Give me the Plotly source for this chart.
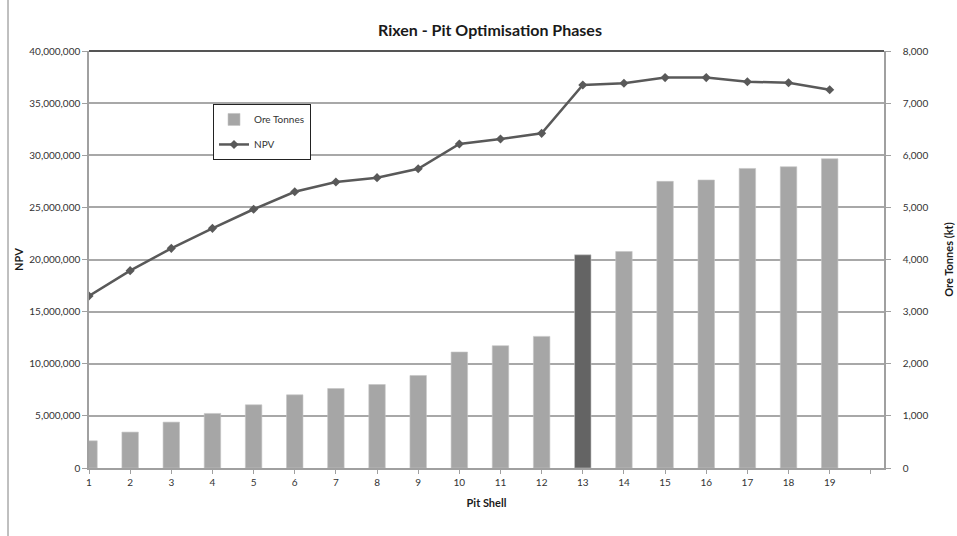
import plotly.graph_objects as go

# Pit shells and results per shell
pit_shell = list(range(1, 20))
npv = [16.5e6, 18.93e6, 21.07e6, 22.99e6, 24.82e6, 26.5e6, 27.43e6, 27.85e6, 28.71e6,
       31.08e6, 31.56e6, 32.1e6, 36.74e6, 36.9e6, 37.45e6, 37.45e6, 37.05e6, 36.95e6, 36.28e6]
ore_tonnes = [522, 689, 880, 1047, 1212, 1403, 1525, 1602, 1775,
              2225, 2346, 2525, 4090, 4154, 5499, 5525, 5747, 5780, 5933]

tick_vals = list(range(1, 21))
tick_text = [str(v) for v in range(1, 20)] + [""]

selected_shell = 13
bar_colors = ["#646464" if s == selected_shell else "#a6a6a6" for s in pit_shell]

FONT = "Lato"
TXT = "#333333"

fig = go.Figure()
fig.add_trace(go.Bar(
    x=pit_shell, y=ore_tonnes, name="Ore Tonnes", legendgroup="ore",
    marker=dict(color=bar_colors, line=dict(color="#c4c4c4", width=0.6)),
    width=0.4, yaxis="y",
))
fig.add_trace(go.Scatter(
    x=pit_shell, y=npv, name="NPV", mode="lines+markers", legendgroup="npv",
    line=dict(color="#595959", width=2.5),
    marker=dict(symbol="diamond", size=7, color="#595959"),
    yaxis="y2",
))

fig.update_layout(
    width=957, height=536,
    margin=dict(l=89, r=73, t=51, b=68, autoexpand=False),
    paper_bgcolor="white", plot_bgcolor="white",
    font=dict(family=FONT, size=10, color=TXT),
    title=dict(text="<b>Rixen - Pit Optimisation Phases</b>",
               x=0.512, xanchor="center", y=0.943, yanchor="middle",
               font=dict(family=FONT, size=16, color="#1a1a1a")),
    showlegend=True,
    legend=dict(x=0.156, y=0.873, xanchor="left", yanchor="top",
                bgcolor="white", bordercolor="#222222", borderwidth=1,
                font=dict(family=FONT, size=10, color=TXT),
                traceorder="grouped", tracegroupgap=6),
    bargap=0.6,
    xaxis=dict(
        range=[1, 20.32], tickmode="array", tickvals=tick_vals, ticktext=tick_text,
        showgrid=False, zeroline=False, showline=True, linecolor="#a0a0a0", linewidth=1.5,
        ticks="outside", ticklen=4, tickcolor="#a0a0a0", automargin=False,
        title=dict(text="<b>Pit Shell</b>", standoff=13, font=dict(family=FONT, size=11, color="#1a1a1a")),
        tickfont=dict(family=FONT, size=10, color=TXT),
    ),
    yaxis=dict(
        side="right", range=[0, 8000], tickvals=list(range(0, 8001, 1000)),
        tickformat=",d", showgrid=True, gridcolor="#a8a8a8", gridwidth=1.5,
        zeroline=False, showline=True, linecolor="#a0a0a0", linewidth=1.5,
        ticks="outside", ticklen=5, tickcolor="#a0a0a0", ticklabelstandoff=10,
        automargin=False,
        title=dict(text="<b>Ore Tonnes (kt)</b>", standoff=18, font=dict(family=FONT, size=11, color="#1a1a1a")),
        tickfont=dict(family=FONT, size=10, color=TXT),
    ),
    yaxis2=dict(
        side="left", overlaying="y", range=[0, 40e6],
        tickvals=[i * 5e6 for i in range(9)], tickformat=",d",
        showgrid=False, zeroline=False, showline=True, linecolor="#a0a0a0", linewidth=1.5,
        ticks="outside", ticklen=5, tickcolor="#a0a0a0", automargin=False,
        title=dict(text="<b>NPV</b>", standoff=3, font=dict(family=FONT, size=11, color="#1a1a1a")),
        tickfont=dict(family=FONT, size=10, color=TXT),
    ),
    shapes=[
        # darker top edge of the plot area
        dict(type="line", xref="paper", yref="paper", x0=0, x1=1, y0=1, y1=1,
             line=dict(color="#555555", width=2)),
        # chart frame edge on the left
        dict(type="line", xref="paper", yref="paper",
             x0=-81 / 795, x1=-81 / 795, y0=-68 / 417, y1=1 + 51 / 417,
             line=dict(color="#808080", width=1)),
    ],
)

fig.write_html("out.html")
